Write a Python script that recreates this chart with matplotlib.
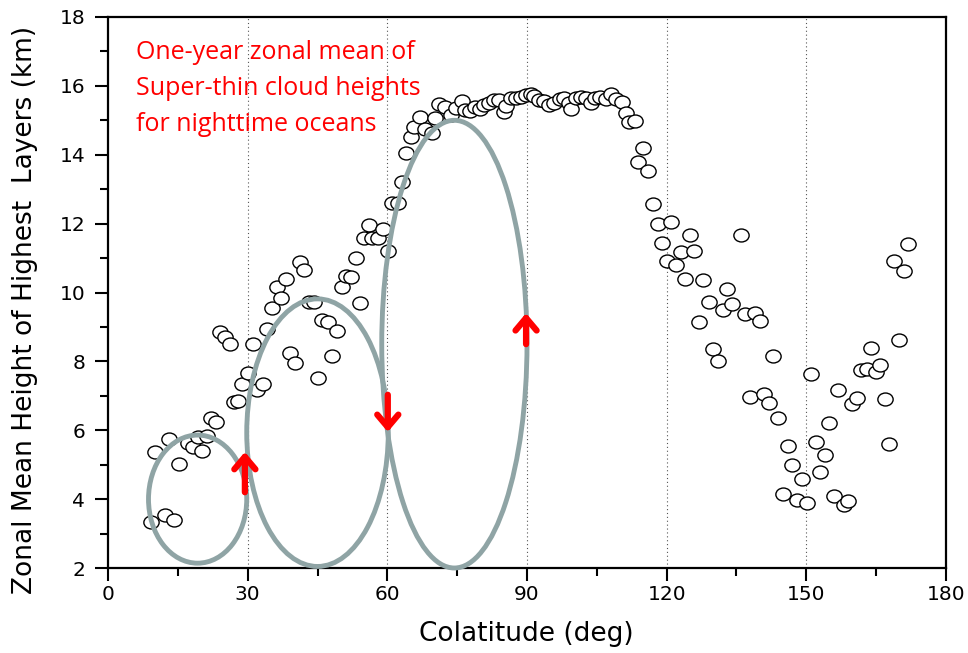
import numpy as np
import matplotlib
matplotlib.use('Agg')
import matplotlib.pyplot as plt
from matplotlib.patches import Ellipse
from matplotlib.path import Path
import matplotlib.transforms as mtransforms

# zonal mean heights of the highest super-thin layers (nighttime, oceans)
colat = [9.2, 10.2, 12.2, 13.2, 14.2, 15.2, 17.2, 18.2, 19.3, 20.2,
         21.3, 22.1, 23.2, 24.1, 25.1, 26.1, 27.0, 27.9, 28.8, 30.0,
         31.2, 32.1, 33.2, 34.1, 35.2, 36.3, 37.2, 38.2, 39.2, 40.2,
         41.2, 42.2, 43.2, 44.3, 45.2, 45.9, 47.2, 48.1, 49.1, 50.2,
         51.1, 52.1, 53.3, 54.2, 55.0, 56.1, 56.8, 58.0, 59.1, 60.2,
         60.9, 62.2, 63.1, 64.0, 65.1, 65.8, 67.1, 68.0, 69.6, 70.2,
         71.2, 72.4, 73.7, 74.7, 76.0, 76.7, 77.8, 78.8, 79.9, 80.8,
         81.9, 83.0, 84.0, 85.0, 85.5, 86.6, 87.6, 88.7, 89.8, 90.9,
         91.6, 92.6, 93.7, 94.8, 95.9, 97.0, 98.0, 99.1, 99.4, 100.5,
         101.6, 102.7, 103.7, 104.6, 105.7, 107.0, 108.0, 109.1, 110.3, 111.3,
         112.0, 113.2, 113.9, 115.0, 116.0, 117.1, 118.1, 119.0, 120.0, 120.9,
         122.0, 123.1, 124.0, 125.0, 125.9, 126.9, 127.9, 129.0, 130.0, 131.0,
         132.0, 132.9, 134.0, 135.9, 136.9, 138.0, 139.0, 140.0, 141.0, 142.0,
         142.9, 144.0, 145.0, 146.0, 146.9, 147.9, 149.0, 150.1, 150.9, 152.0,
         153.0, 154.0, 154.9, 156.0, 156.9, 158.0, 159.0, 159.9, 160.9, 161.8,
         163.0, 163.9, 165.0, 165.9, 166.8, 167.8, 168.9, 170.0, 170.9, 171.9]
height = [3.35, 5.36, 3.54, 5.74, 3.39, 5.01, 5.64, 5.52, 5.80, 5.40,
          5.83, 6.37, 6.25, 8.84, 8.72, 8.50, 6.83, 6.85, 7.34, 7.65,
          8.50, 7.17, 7.34, 8.94, 9.54, 10.17, 9.83, 10.38, 8.24, 7.95,
          10.88, 10.65, 9.73, 9.73, 7.53, 9.20, 9.15, 8.16, 8.89, 10.15,
          10.48, 10.46, 11.00, 9.70, 11.59, 11.96, 11.59, 11.59, 11.84, 11.21,
          12.60, 12.60, 13.20, 14.04, 14.51, 14.82, 15.09, 14.75, 14.64, 15.08,
          15.47, 15.40, 15.15, 15.35, 15.57, 15.30, 15.28, 15.38, 15.33, 15.44,
          15.51, 15.59, 15.59, 15.25, 15.42, 15.64, 15.64, 15.67, 15.74, 15.76,
          15.71, 15.59, 15.56, 15.44, 15.51, 15.62, 15.64, 15.49, 15.33, 15.64,
          15.69, 15.64, 15.49, 15.64, 15.69, 15.61, 15.76, 15.61, 15.54, 15.20,
          14.96, 14.99, 13.78, 14.19, 13.53, 12.57, 12.00, 11.43, 10.92, 12.06,
          10.79, 11.17, 10.38, 11.67, 11.21, 9.14, 10.36, 9.72, 8.37, 8.01,
          9.49, 10.10, 9.67, 11.67, 9.38, 6.97, 9.40, 9.17, 7.04, 6.80,
          8.17, 6.36, 4.15, 5.54, 4.99, 3.98, 4.59, 3.88, 7.62, 5.67,
          4.78, 5.28, 6.22, 4.09, 7.18, 3.84, 3.95, 6.75, 6.95, 7.74,
          7.79, 8.39, 7.68, 7.90, 6.91, 5.60, 10.92, 8.61, 10.63, 11.40]

# circulation cells: centre x, centre y, width, height
cell_x = [19.25, 45.0, 74.4]
cell_y = [4.0, 5.93, 8.5]
cell_w = [21.1, 30.4, 31.2]
cell_h = [3.72, 7.77, 13.0]

# flow direction arrows: x, tail y, head y
arrow_x = [29.4, 60.1, 89.8]
arrow_from = [4.2, 7.03, 8.5]
arrow_to = [5.37, 5.95, 9.4]

xticks = [0, 30, 60, 90, 120, 150, 180]
yticks = [2, 4, 6, 8, 10, 12, 14, 16, 18]

fig = plt.figure(figsize=(9.68, 6.53), dpi=100)
ax = fig.add_axes([108/968, 1-568/653, (946-108)/968, (568-17)/653])

for xv in xticks[1:-1]:
    ax.axvline(xv, color='#555555', ls=(0, (1, 2.5)), lw=0.8, zorder=1)

oval = Path.unit_circle().transformed(mtransforms.Affine2D().scale(1.18, 1.0))
ax.plot(colat, height, ls='none', marker=oval, ms=11, mfc='white',
        mec='black', mew=1.0, zorder=2)

for cx, cy, w, h in zip(cell_x, cell_y, cell_w, cell_h):
    e = Ellipse((cx, cy), w, h, fill=False, ec='#8fa4a5', lw=3.5,
                zorder=3, clip_on=False)
    ax.add_patch(e)

for xa, y0, y1 in zip(arrow_x, arrow_from, arrow_to):
    ax.annotate('', xy=(xa, y1), xytext=(xa, y0),
                arrowprops=dict(arrowstyle='->,head_length=0.45,head_width=0.38',
                                mutation_scale=20, color='red', lw=4.5,
                                shrinkA=0, shrinkB=0),
                zorder=4)

ax.text(0.0334, 0.958, 'One-year zonal mean of\nSuper-thin cloud heights\nfor nighttime oceans',
        transform=ax.transAxes, ha='left', va='top', color='red',
        fontsize=18, family=['Open Sans', 'DejaVu Sans'], linespacing=1.58)

ax.set_xlim(0, 180)
ax.set_ylim(2, 18)
ax.set_xticks(xticks)
ax.set_xticks([15, 45, 75, 105, 135, 165], minor=True)
ax.set_yticks(yticks)
ax.set_yticks([3, 5, 7, 9, 11, 13, 15, 17], minor=True)
ax.tick_params(which='both', direction='out', width=1.5, labelsize=14.5)
ax.tick_params(which='major', length=9.5)
ax.tick_params(which='minor', length=5.5)
ax.tick_params(axis='y', which='major', pad=7)
ax.tick_params(axis='x', which='major', pad=3)
for s in ax.spines.values():
    s.set_linewidth(1.6)

ax.set_xlabel('Colatitude (deg)', fontsize=19)
ax.set_ylabel('Zonal Mean Height of Highest  Layers (km)', fontsize=19)
ax.xaxis.label.set_va('center')
ax.yaxis.label.set_va('center')
ax.xaxis.set_label_coords(0.499, -0.12)
ax.yaxis.set_label_coords(-0.099, 0.468)

fig.savefig('out.png', dpi=100)
